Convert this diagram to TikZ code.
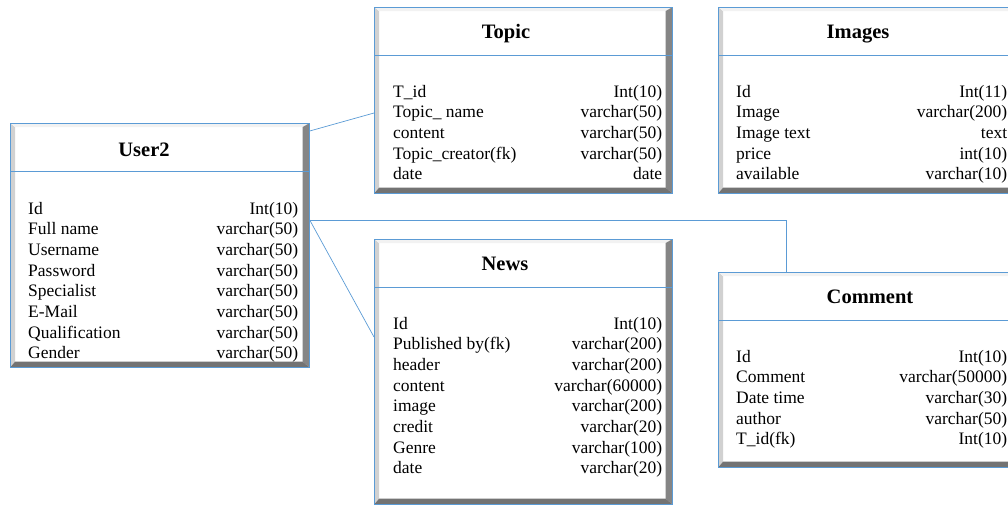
\documentclass[tikz,border=0pt]{standalone}
\usepackage{fontspec}
\setmainfont{Liberation Serif}
\usepackage{tikz}
\usetikzlibrary{backgrounds}
\definecolor{linkblue}{RGB}{91,155,213}

\begin{document}
\begin{tikzpicture}[x=1pt,y=-1pt,
  tbl/.style={draw=linkblue,fill=white,anchor=north west,inner sep=0pt,line width=0.7pt},
  ttl/.style={font=\fontsize{20.5}{24}\selectfont\bfseries,anchor=base},
  rows/.style={font=\fontsize{17.5}{20.7}\selectfont,anchor=base west,inner sep=0pt},
  link/.style={draw=linkblue,line width=0.7pt}]
\useasboundingbox (0,0) rectangle (1008,506);
\clip (0,0) rectangle (1008,506);

% tables
\node[tbl,minimum width=299pt,minimum height=244pt] (user) at (10,123) {};
\node[tbl,minimum width=298pt,minimum height=186pt] (topic) at (374,7) {};
\node[tbl,minimum width=298pt,minimum height=265pt] (news) at (374,239) {};
\node[tbl,minimum width=297pt,minimum height=186pt] (images) at (718,7) {};
\node[tbl,minimum width=297pt,minimum height=195pt] (comment) at (718,272) {};

% bevelled frames
\foreach \t in {user,topic,news,images,comment}{
  \fill[black!18] (\t.north west) -- ([shift={(5pt,-4pt)}]\t.north west) -- ([shift={(5pt,6pt)}]\t.south west) -- (\t.south west) -- cycle;
  \fill[black!5] (\t.north west) -- (\t.north east) -- ([shift={(-7pt,-4pt)}]\t.north east) -- ([shift={(5pt,-4pt)}]\t.north west) -- cycle;
  \fill[black!48] (\t.north east) -- (\t.south east) -- ([shift={(-7pt,6pt)}]\t.south east) -- ([shift={(-7pt,-4pt)}]\t.north east) -- cycle;
  \fill[black!55] (\t.south west) -- (\t.south east) -- ([shift={(-7pt,6pt)}]\t.south east) -- ([shift={(5pt,6pt)}]\t.south west) -- cycle;
  \draw[linkblue,line width=0.7pt] (\t.north west) rectangle (\t.south east);
  \draw[linkblue,line width=0.7pt] ([yshift=-48pt]\t.north west) -- ([yshift=-48pt]\t.north east);
}

% titles
\node[ttl] (usertitle) at ([shift={(134pt,-33pt)}]user.north west) {User2};
\node[ttl] (topictitle) at ([shift={(132pt,-31pt)}]topic.north west) {Topic};
\node[ttl] (newstitle) at ([shift={(131pt,-31pt)}]news.north west) {News};
\node[ttl] (imagestitle) at ([shift={(140pt,-31pt)}]images.north west) {Images};
\node[ttl] (commenttitle) at ([shift={(152pt,-31pt)}]comment.north west) {Comment};

% fields
\node[rows] (userrows) at ([shift={(18pt,-91pt)}]user.north west) {\begin{tabular*}{270pt}[t]{@{}l@{\extracolsep{\fill}}r@{}}
Id & Int(10)\\
Full name & varchar(50)\\
Username & varchar(50)\\
Password & varchar(50)\\
Specialist & varchar(50)\\
E-Mail & varchar(50)\\
Qualification & varchar(50)\\
Gender & varchar(50)
\end{tabular*}};
\node[rows] (topicrows) at ([shift={(19pt,-90pt)}]topic.north west) {\begin{tabular*}{269pt}[t]{@{}l@{\extracolsep{\fill}}r@{}}
T\_id & Int(10)\\
Topic\_ name & varchar(50)\\
content & varchar(50)\\
Topic\_creator(fk) & varchar(50)\\
date & date
\end{tabular*}};
\node[rows] (newsrows) at ([shift={(19pt,-90pt)}]news.north west) {\begin{tabular*}{269pt}[t]{@{}l@{\extracolsep{\fill}}r@{}}
Id & Int(10)\\
Published by(fk) & varchar(200)\\
header & varchar(200)\\
content & varchar(60000)\\
image & varchar(200)\\
credit & varchar(20)\\
Genre & varchar(100)\\
date & varchar(20)
\end{tabular*}};
\node[rows] (imagesrows) at ([shift={(18pt,-90pt)}]images.north west) {\begin{tabular*}{271pt}[t]{@{}l@{\extracolsep{\fill}}r@{}}
Id & Int(11)\\
Image & varchar(200)\\
Image text & text\\
price & int(10)\\
available & varchar(10)
\end{tabular*}};
\node[rows] (commentrows) at ([shift={(18pt,-90pt)}]comment.north west) {\begin{tabular*}{271pt}[t]{@{}l@{\extracolsep{\fill}}r@{}}
Id & Int(10)\\
Comment & varchar(50000)\\
Date time & varchar(30)\\
author & varchar(50)\\
T\_id(fk) & Int(10)
\end{tabular*}};

% links
\begin{scope}[on background layer]
\draw[link] ([yshift=-8pt]user.north east) -- ([yshift=-106pt]topic.north west);
\draw[link] ([yshift=-97pt]user.north east) -| ([xshift=68pt]comment.north west);
\draw[link] ([yshift=-97pt]user.north east) -- ([yshift=-98pt]news.north west);
\end{scope}
\end{tikzpicture}
\end{document}
